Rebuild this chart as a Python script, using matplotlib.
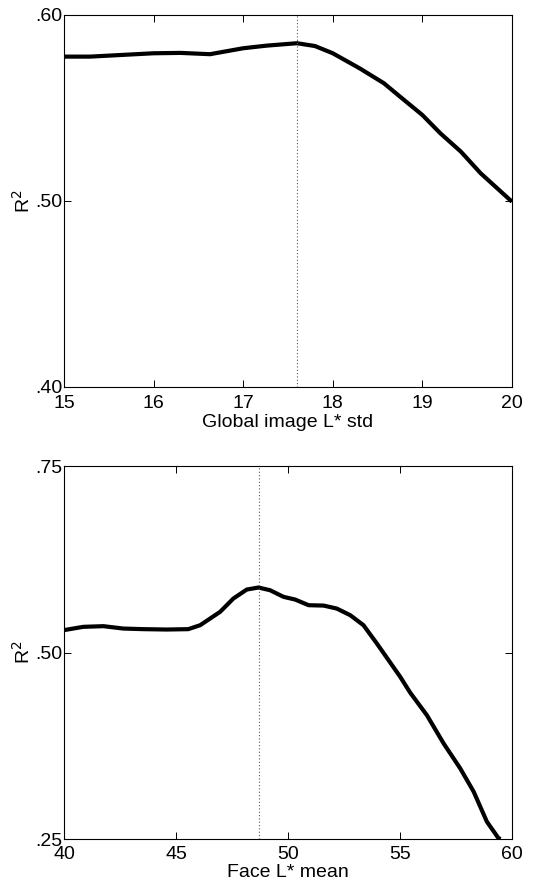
import matplotlib
matplotlib.use("Agg")
import matplotlib.pyplot as plt

plt.rcParams['font.family'] = ['Liberation Sans', 'DejaVu Sans']

# Top panel: Global image L* std
top_x = [15.0, 15.29, 16.0, 16.3, 16.63, 17.0, 17.26, 17.6, 17.8, 18.0, 18.3, 18.57, 18.75, 19.0, 19.2, 19.43, 19.65, 20.0]
top_y = [0.5776, 0.5776, 0.5794, 0.5796, 0.5789, 0.5821, 0.5835, 0.5848, 0.5833, 0.5794, 0.5713, 0.5633, 0.5561, 0.5462, 0.5364, 0.5265, 0.5149, 0.4996]
top_opt = 17.6
top_xticks = [15, 16, 17, 18, 19, 20]
top_yticks = [0.40, 0.50, 0.60]
top_yticklabels = ['.40', '.50', '.60']

# Bottom panel: Face L* mean
bot_x = [40.0, 40.86, 41.76, 42.65, 43.54, 44.59, 45.55, 46.08, 46.97, 47.56, 48.16, 48.68, 49.2, 49.8, 50.32, 50.92, 51.59, 52.18, 52.78, 53.37, 53.97, 54.49, 55.01, 55.46, 56.2, 56.95, 57.69, 58.29, 58.88, 59.4, 59.5]
bot_y = [0.530, 0.5344, 0.5353, 0.5321, 0.5313, 0.5308, 0.5313, 0.5366, 0.5545, 0.5723, 0.5844, 0.5871, 0.5835, 0.5746, 0.5710, 0.5634, 0.5629, 0.5589, 0.550, 0.5366, 0.512, 0.4897, 0.4674, 0.446, 0.416, 0.378, 0.3446, 0.3134, 0.2732, 0.2509, 0.25]
bot_opt = 48.7
bot_xticks = [40, 45, 50, 55, 60]
bot_yticks = [0.25, 0.50, 0.75]
bot_yticklabels = ['.25', '.50', '.75']

fig = plt.figure(figsize=(5.52, 8.90), dpi=100)

def panel(rect, x, y, opt, xlim, ylim, xticks, yticks, ylabels, xlabel, xpad, lpad):
    ax = fig.add_axes(rect)
    ax.plot(x, y, color='black', lw=3.0, solid_joinstyle='round', solid_capstyle='butt')
    ax.axvline(opt, color='#555555', lw=0.8, ls=(0, (1, 2)))
    ax.set_xlim(*xlim)
    ax.set_ylim(*ylim)
    ax.set_xticks(xticks)
    ax.set_xticklabels([str(t) for t in xticks])
    ax.set_yticks(yticks)
    ax.set_yticklabels(ylabels)
    ax.tick_params(direction='in', length=5, width=0.7, top=True, right=True, labelsize=14, colors='black')
    ax.tick_params(axis='x', pad=xpad)
    ax.tick_params(axis='y', pad=1)
    for s in ax.spines.values():
        s.set_linewidth(0.8)
    ax.set_xlabel(xlabel, fontsize=14, labelpad=lpad)
    ax.set_ylabel('R$^2$', fontsize=14, labelpad=1)
    return ax

panel([0.1159, 0.5652, 0.8116, 0.418], top_x, top_y, top_opt, (15, 20), (0.40, 0.60),
      top_xticks, top_yticks, top_yticklabels, 'Global image L* std', 5.5, 2)
panel([0.1159, 0.0573, 0.8116, 0.4191], bot_x, bot_y, bot_opt, (40, 60), (0.25, 0.75),
      bot_xticks, bot_yticks, bot_yticklabels, 'Face L* mean', 5, 1)

fig.savefig('out.png', dpi=100)
